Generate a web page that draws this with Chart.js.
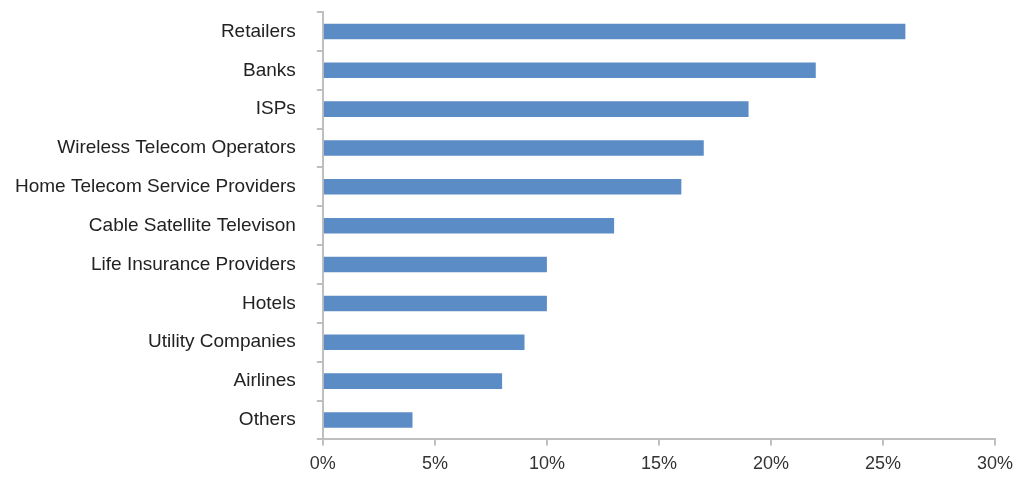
<!DOCTYPE html>
<html>
<head>
<meta charset="utf-8">
<script src="https://cdn.jsdelivr.net/npm/chart.js@4.4.0/dist/chart.umd.min.js"></script>
<style>
  html, body { margin: 0; padding: 0; background: #fff; }
  #wrap { width: 1016px; height: 483px; }
</style>
</head>
<body>
<div id="wrap"><canvas id="myChart"></canvas></div>
<script>
// categories and shares
var categories = ['Retailers', 'Banks', 'ISPs', 'Wireless Telecom Operators', 'Home Telecom Service Providers',
  'Cable Satellite Televison', 'Life Insurance Providers', 'Hotels', 'Utility Companies', 'Airlines', 'Others'];
var shares = [26, 22, 19, 17, 16, 13, 10, 10, 9, 8, 4];
var xTicks = [0, 5, 10, 15, 20, 25, 30];

var ctx = document.getElementById('myChart').getContext('2d');
var axisGrey = '#bfbfbf';

new Chart(ctx, {
  type: 'bar',
  data: {
    labels: categories,
    datasets: [{
      data: shares,
      backgroundColor: '#5b8cc6',
      borderWidth: 0,
      barPercentage: 0.4,
      categoryPercentage: 1
    }]
  },
  options: {
    indexAxis: 'y',
    responsive: true,
    maintainAspectRatio: false,
    animation: false,
    layout: { padding: { left: -6, right: 0, top: 12, bottom: 0 } },
    plugins: { legend: { display: false }, tooltip: { enabled: false } },
    scales: {
      x: {
        min: 0,
        max: 30,
        afterBuildTicks: function (axis) {
          axis.ticks = xTicks.map(function (v) { return { value: v }; });
        },
        afterFit: function (axis) { axis.paddingRight = 21; },
        grid: { drawOnChartArea: false, drawTicks: true, tickLength: 6, color: axisGrey, lineWidth: 2 },
        border: { display: true, color: axisGrey, width: 2 },
        ticks: {
          color: '#333',
          font: { family: 'Liberation Sans', size: 18 },
          padding: 8,
          callback: function (v) { return v + '%'; }
        }
      },
      y: {
        afterFit: function (axis) { axis.paddingTop = 0; },
        grid: { drawOnChartArea: false, drawTicks: true, tickLength: 6, color: axisGrey, lineWidth: 2, offset: true },
        border: { display: true, color: axisGrey, width: 2 },
        ticks: {
          color: '#222',
          font: { family: 'Liberation Sans', size: 19 },
          padding: 21
        }
      }
    }
  }
});
</script>
</body>
</html>
